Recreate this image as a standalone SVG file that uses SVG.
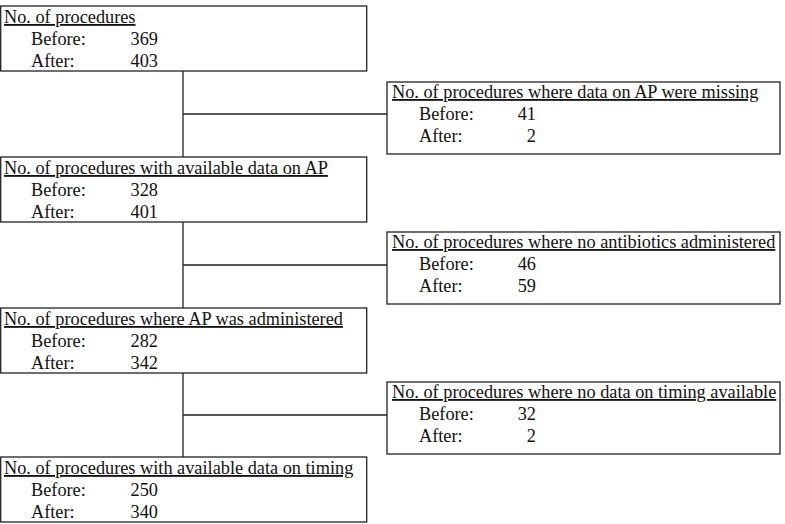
<svg xmlns="http://www.w3.org/2000/svg" width="785" height="524" viewBox="0 0 785 524">
<style>
rect{fill:#fff;stroke:#222;stroke-width:1.3}
line{stroke:#222;stroke-width:1.3}
text{font-family:"Liberation Serif","Times New Roman",serif;font-size:18.3px;fill:#111}
.t{text-decoration:underline}
.n{text-anchor:end}
</style>
<rect x="0" y="0" width="785" height="524" style="fill:#fff;stroke:none"/>
<g id="connectors">
<line x1="183" y1="71" x2="183" y2="157"/>
<line x1="183" y1="114" x2="387" y2="114"/>
<line x1="183" y1="222" x2="183" y2="308"/>
<line x1="183" y1="265" x2="387" y2="265"/>
<line x1="183" y1="373" x2="183" y2="457"/>
<line x1="183" y1="415" x2="387" y2="415"/>
</g>
<g id="n1">
<rect x="0.7" y="6" width="366" height="65"/>
<text class="t" x="4" y="23">No. of procedures</text>
<text x="31" y="45">Before:</text><text class="n" x="158" y="45">369</text>
<text x="31" y="67">After:</text><text class="n" x="158" y="67">403</text>
</g>
<g id="n2">
<rect x="387" y="82" width="393" height="72"/>
<text class="t" x="392" y="98">No. of procedures where data on AP were missing</text>
<text x="419" y="120">Before:</text><text class="n" x="536" y="120">41</text>
<text x="419" y="142">After:</text><text class="n" x="536" y="142">2</text>
</g>
<g id="n3">
<rect x="0.7" y="157" width="366" height="65"/>
<text class="t" x="4" y="174">No. of procedures with available data on AP</text>
<text x="31" y="196">Before:</text><text class="n" x="158" y="196">328</text>
<text x="31" y="218">After:</text><text class="n" x="158" y="218">401</text>
</g>
<g id="n4">
<rect x="387" y="232" width="393" height="72"/>
<text class="t" x="392" y="248">No. of procedures where no antibiotics administered</text>
<text x="419" y="270">Before:</text><text class="n" x="536" y="270">46</text>
<text x="419" y="292">After:</text><text class="n" x="536" y="292">59</text>
</g>
<g id="n5">
<rect x="0.7" y="308" width="366" height="65"/>
<text class="t" x="4" y="325">No. of procedures where AP was administered</text>
<text x="31" y="347">Before:</text><text class="n" x="158" y="347">282</text>
<text x="31" y="369">After:</text><text class="n" x="158" y="369">342</text>
</g>
<g id="n6">
<rect x="387" y="382" width="393" height="72"/>
<text class="t" x="392" y="398">No. of procedures where no data on timing available</text>
<text x="419" y="420">Before:</text><text class="n" x="536" y="420">32</text>
<text x="419" y="442">After:</text><text class="n" x="536" y="442">2</text>
</g>
<g id="n7">
<rect x="0.7" y="457" width="366" height="65"/>
<text class="t" x="4" y="474">No. of procedures with available data on timing</text>
<text x="31" y="496">Before:</text><text class="n" x="158" y="496">250</text>
<text x="31" y="518">After:</text><text class="n" x="158" y="518">340</text>
</g>
</svg>
